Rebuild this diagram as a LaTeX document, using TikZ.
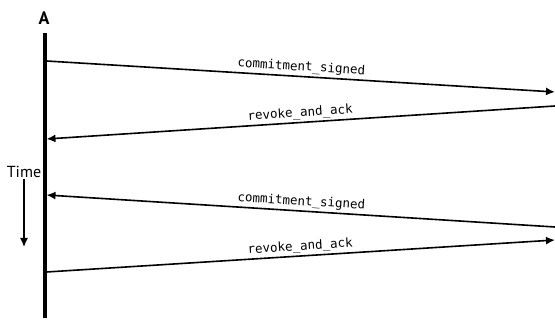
\documentclass[tikz,border=0pt]{standalone}
\usepackage{fontspec}
\setmainfont{PT Sans}
\setmonofont{DejaVu Sans Mono}
\usetikzlibrary{arrows.meta}
\begin{document}
\begin{tikzpicture}[x=1pt,y=-1pt,
  msg/.style={line width=1.6pt,-{Latex[length=9pt,width=8pt]}},
  lbl/.style={font=\ttfamily\fontsize{12.5}{14}\selectfont,above,sloped,midway,inner sep=2pt},
  lifeline/.style={line width=4pt}]
  \useasboundingbox (0,0) rectangle (555,320);
  % participant and its time line
  \node[font=\fontsize{18}{20}\selectfont\bfseries] (A) at (44,18) {A};
  \coordinate (top) at (44.5,33);
  \coordinate (bot) at (44.5,318);
  \draw[lifeline] (top) -- (bot);
  % time direction
  \node[font=\fontsize{16}{18}\selectfont,inner sep=1pt] (time) at (24,172) {Time};
  \coordinate (tend) at (24,247);
  \draw[line width=1.3pt,-{Latex[length=9pt,width=8pt]}] (time.south) -- (tend);
  % message end points
  \coordinate (a1) at (46.5,61);   \coordinate (b1) at (555,92);
  \coordinate (b2) at (555,106);   \coordinate (a2) at (46.5,139);
  \coordinate (b3) at (555,227);   \coordinate (a3) at (46.5,195);
  \coordinate (a4) at (46.5,272);  \coordinate (b4) at (555,240);
  % messages
  \draw[msg] (a1) -- node[lbl] {commitment\_signed} (b1);
  \draw[msg] (b2) -- node[lbl] {revoke\_and\_ack} (a2);
  \draw[msg] (b3) -- node[lbl] {commitment\_signed} (a3);
  \draw[msg] (a4) -- node[lbl] {revoke\_and\_ack} (b4);
\end{tikzpicture}
\end{document}
